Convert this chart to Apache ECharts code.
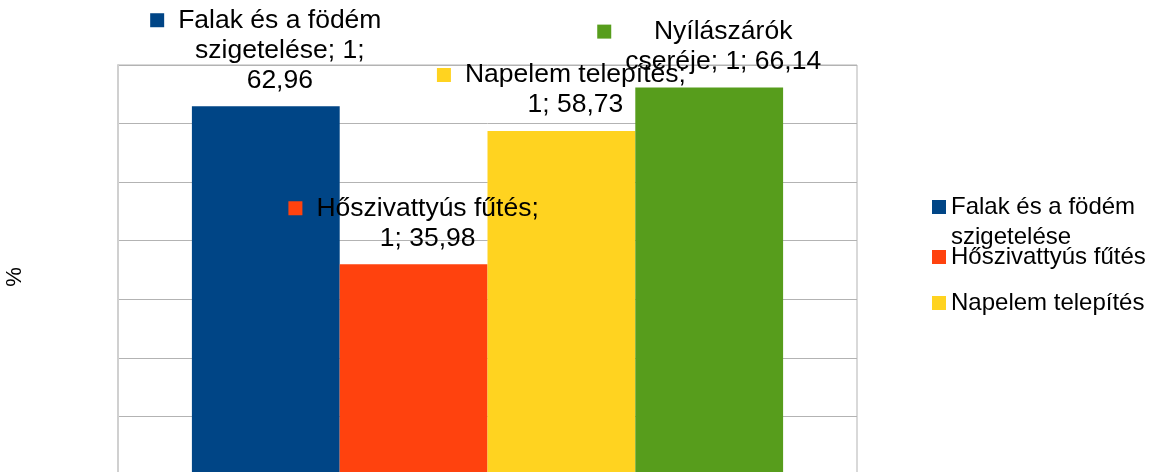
<!DOCTYPE html>
<html>
<head>
<meta charset="utf-8">
<script src="https://cdn.jsdelivr.net/npm/echarts@6/dist/echarts.min.js"></script>
<style>
  html, body { margin: 0; padding: 0; background: #fff; }
  #main { width: 1156px; height: 472px; }
</style>
</head>
<body>
<div id="main"></div>
<script>
const categories = ['1'];
const seriesNames = ['Falak és a födém szigetelése', 'Hőszivattyús fűtés', 'Napelem telepítés', 'Nyílászárók cseréje'];
const seriesValues = [62.96, 35.98, 58.73, 66.14];
const seriesColors = ['#004586', '#ff420e', '#ffd320', '#579d1c'];
const legendNames = ['Falak és a födém szigetelése', 'Hőszivattyús fűtés', 'Napelem telepítés'];
const yMin = 0, yMax = 70, yStep = 10;
// %c = category, %v = value; line breaks as in the original labels
const labelTemplates = [
    'Falak és a födém\nszigetelése; %c;\n%v',
    'Hőszivattyús fűtés;\n%c; %v',
    'Napelem telepítés;\n%c; %v',
    'Nyílászárók\ncseréje; %c; %v'
];

const FONT = 'Liberation Sans, Arial, sans-serif';
const chart = echarts.init(document.getElementById('main'));

function fmt(v) {
    return v.toFixed(2).replace('.', ',');
}

// long legend names wrap their last word; a blank first line keeps the
// first text line level with the legend square
function wrapName(n) {
    if (n.length <= 20) return n;
    const cut = n.lastIndexOf(' ');
    return ' \n' + n.slice(0, cut) + '\n' + n.slice(cut + 1);
}

const series = seriesNames.map(function (name, i) {
    return {
        name: name,
        type: 'bar',
        barGap: 0,
        barCategoryGap: '20%',
        data: [seriesValues[i]],
        itemStyle: { color: seriesColors[i] },
        label: {
            show: true,
            position: 'top',
            distance: 11,
            color: '#000',
            fontFamily: FONT,
            fontSize: 26.5,
            lineHeight: 30,
            formatter: function (p) {
                const txt = labelTemplates[i].replace('%c', p.name).replace('%v', fmt(p.value));
                return txt.split('\n').map(function (line, k) {
                    return (k === 0 ? '{sq|}{g|}' : '{pad|}') + line;
                }).join('\n');
            },
            rich: {
                sq: { width: 14, height: 14, backgroundColor: seriesColors[i], align: 'left', lineHeight: 30 },
                g: { width: 14, height: 14, align: 'left', lineHeight: 30 },
                pad: { width: 28, height: 14, align: 'left', lineHeight: 30 }
            }
        }
    };
});

const legendText = {
    fontFamily: FONT,
    fontSize: 24,
    color: '#000',
    lineHeight: 30
};

const option = {
    animation: false,
    grid: {
        left: 118,
        top: 65,
        width: 739,
        height: 410,
        outerBoundsMode: 'none',
        show: true,
        borderColor: '#b3b3b3',
        borderWidth: 1
    },
    // first legend item wraps and its second line runs into the next item, so it is a legend of its own
    legend: [{
        data: legendNames.slice(0, 1),
        orient: 'vertical',
        left: 932,
        top: 162,
        padding: 0,
        itemWidth: 14,
        itemHeight: 14,
        icon: 'rect',
        formatter: wrapName,
        textStyle: legendText
    }, {
        data: legendNames.slice(1),
        orient: 'vertical',
        left: 932,
        top: 242,
        padding: 0,
        itemWidth: 14,
        itemHeight: 14,
        itemGap: 16,
        icon: 'rect',
        formatter: wrapName,
        textStyle: legendText
    }],
    xAxis: {
        type: 'category',
        data: categories,
        axisLine: { show: false },
        axisTick: { show: false },
        axisLabel: { show: false }
    },
    yAxis: {
        type: 'value',
        min: yMin,
        max: yMax,
        interval: yStep,
        name: '%',
        nameLocation: 'middle',
        nameGap: 92,
        nameTextStyle: { fontFamily: FONT, fontSize: 22, color: '#000', padding: [0, 14, 0, 0] },
        axisLine: { show: true, lineStyle: { color: '#d0d0d0', width: 2 } },
        axisTick: { show: false },
        axisLabel: { show: false },
        splitLine: { lineStyle: { color: '#b3b3b3', width: 1 } }
    },
    series: series
};

chart.setOption(option);
</script>
</body>
</html>
